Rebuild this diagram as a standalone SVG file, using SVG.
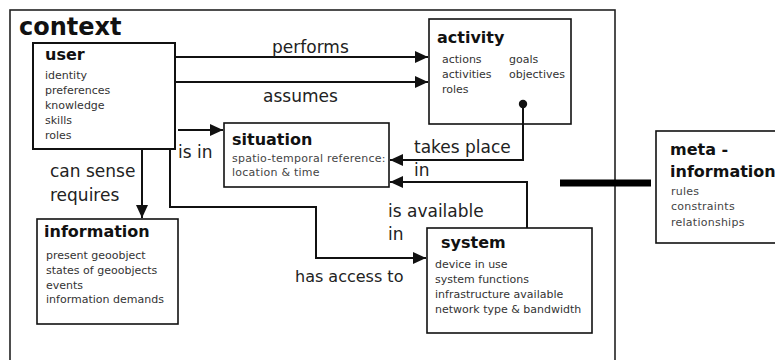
<svg xmlns="http://www.w3.org/2000/svg" width="775" height="360" viewBox="0 0 775 360">
<defs>
<style>
.box{fill:#fff;stroke:#111;stroke-width:1.6}
.title{font-family:"DejaVu Sans",sans-serif;font-weight:bold;font-size:16px;fill:#111}
.item{font-family:"DejaVu Sans",sans-serif;font-size:11px;fill:#333}
.lite{font-family:"DejaVu Sans",sans-serif;font-size:11px;fill:#444;letter-spacing:0.25px}
.lbl{font-family:"DejaVu Sans",sans-serif;font-size:17px;fill:#222}
.con{fill:none;stroke:#111;stroke-width:2}
</style>
<marker id="arr" markerUnits="userSpaceOnUse" markerWidth="14" markerHeight="12" refX="13" refY="6" orient="auto">
<path d="M0,0 L13,6 L0,12 z" fill="#111"/>
</marker>
<marker id="dot" markerUnits="userSpaceOnUse" markerWidth="10" markerHeight="10" refX="5" refY="5" orient="auto">
<circle cx="5" cy="5" r="4.2" fill="#111"/>
</marker>
</defs>
<rect width="775" height="360" fill="#fff"/>

<g id="context">
<rect x="10" y="10" width="605" height="380" fill="none" stroke="#222" stroke-width="1.6"/>
<text x="19" y="35" style="font-family:'DejaVu Sans',sans-serif;font-weight:bold;font-size:24px;fill:#111">context</text>
</g>

<g id="user">
<rect class="box" x="33" y="43" width="142" height="106" style="stroke-width:2"/>
<text class="title" x="45" y="60">user</text>
<text class="item" x="45" y="79">identity</text>
<text class="item" x="45" y="94">preferences</text>
<text class="item" x="45" y="109">knowledge</text>
<text class="item" x="45" y="124">skills</text>
<text class="item" x="45" y="139">roles</text>
</g>

<g id="activity">
<rect class="box" x="429" y="19" width="142" height="105"/>
<text class="title" x="437" y="43">activity</text>
<text class="item" x="442" y="63">actions</text>
<text class="item" x="442" y="78">activities</text>
<text class="item" x="442" y="93">roles</text>
<text class="item" x="509" y="63">goals</text>
<text class="item" x="509" y="78">objectives</text>
</g>

<g id="situation">
<rect class="box" x="224" y="123" width="165" height="64"/>
<text class="title" x="232" y="145">situation</text>
<text class="lite" x="232" y="162">spatio-temporal reference:</text>
<text class="lite" x="232" y="176">location &amp; time</text>
</g>

<g id="information">
<rect class="box" x="37" y="219" width="141" height="105"/>
<text class="title" x="44" y="237">information</text>
<text class="item" x="46" y="259">present geoobject</text>
<text class="item" x="46" y="274">states of geoobjects</text>
<text class="item" x="46" y="289">events</text>
<text class="item" x="46" y="303">information demands</text>
</g>

<g id="system">
<rect class="box" x="427" y="228" width="165" height="105"/>
<text class="title" x="441" y="248">system</text>
<text class="item" x="435" y="268">device in use</text>
<text class="item" x="435" y="283">system functions</text>
<text class="item" x="435" y="298">infrastructure available</text>
<text class="item" x="435" y="313">network type &amp; bandwidth</text>
</g>

<g id="meta-information">
<rect class="box" x="656" y="131" width="130" height="112"/>
<text class="title" x="670" y="155">meta -</text>
<text class="title" x="670" y="177">information</text>
<text class="lite" x="671" y="195">rules</text>
<text class="lite" x="671" y="210">constraints</text>
<text class="lite" x="671" y="226">relationships</text>
</g>

<g id="connectors">
<path class="con" d="M175,57 H428" marker-end="url(#arr)"/>
<path class="con" d="M175,82 H428" marker-end="url(#arr)"/>
<path class="con" d="M178,130 H223" marker-end="url(#arr)"/>
<path class="con" d="M523,104 V160 H390" marker-start="url(#dot)" marker-end="url(#arr)"/>
<path class="con" d="M527,228 V182 H390" marker-end="url(#arr)"/>
<path class="con" d="M170,149 V207 H316 V258 H426" marker-end="url(#arr)"/>
<path class="con" d="M142,149 V218" marker-end="url(#arr)"/>
<path d="M560,183 H651" stroke="#000" stroke-width="7" fill="none"/>
<text class="lbl" x="272" y="53">performs</text>
<text class="lbl" x="263" y="102">assumes</text>
<text class="lbl" x="178" y="158">is in</text>
<text class="lbl" x="414" y="153">takes place</text>
<text class="lbl" x="414" y="176">in</text>
<text class="lbl" x="388" y="217">is available</text>
<text class="lbl" x="388" y="240">in</text>
<text class="lbl" x="295" y="282" style="font-size:16px">has access to</text>
<text class="lbl" x="50" y="177">can sense</text>
<text class="lbl" x="50" y="201">requires</text>
</g>
</svg>
